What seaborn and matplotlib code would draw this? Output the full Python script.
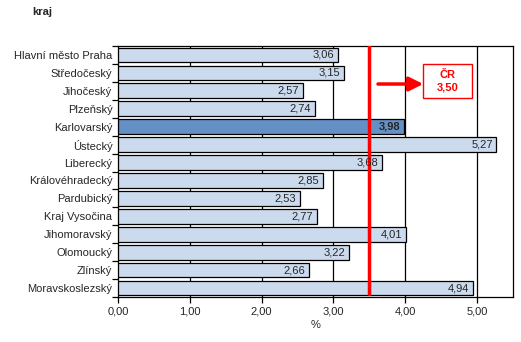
import matplotlib
matplotlib.use("Agg")
import matplotlib.pyplot as plt
from matplotlib.patches import Rectangle
import seaborn as sns
import pandas as pd

regions = ["Hlavní město Praha", "Středočeský", "Jihočeský", "Plzeňský", "Karlovarský",
           "Ústecký", "Liberecký", "Královéhradecký", "Pardubický", "Kraj Vysočina",
           "Jihomoravský", "Olomoucký", "Zlínský", "Moravskoslezský"]
values = [3.06, 3.15, 2.57, 2.74, 3.98, 5.27, 3.68, 2.85, 2.53, 2.77, 4.01, 3.22, 2.66, 4.94]
highlight = "Karlovarský"
cr_value = 3.50
x_ticks = [0, 1, 2, 3, 4, 5]

sns.set_theme(style="white")
plt.rcParams["font.family"] = ["Liberation Sans", "DejaVu Sans"]
FS = 8

df = pd.DataFrame({"kraj": regions, "hodnota": values})
light, dark = "#C6D9F1", "#558ED5"
palette = {r: (dark if r == highlight else light) for r in regions}

fig = plt.figure(figsize=(5.21, 3.42), dpi=100)
ax = fig.add_axes([118 / 521, 1 - 297 / 342, (513 - 118) / 521, (297 - 46) / 342])

sns.barplot(data=df, x="hodnota", y="kraj", hue="kraj", palette=palette, order=regions,
            width=0.82, edgecolor="black", linewidth=0.9, legend=False, ax=ax, zorder=3)

ax.set_xlim(0, 5.5)
ax.set_ylim(len(regions) - 0.5, -0.5)
ax.set_xticks(x_ticks)
ax.set_xticklabels([f"{t:.2f}".replace(".", ",") for t in x_ticks], fontsize=FS)
for t in x_ticks[1:]:
    ax.axvline(t, color="black", lw=0.9, zorder=1)

ax.set_yticks(range(len(regions)))
ax.set_yticklabels(regions, fontsize=FS)
ax.tick_params(axis="y", length=0, pad=4)
ax.tick_params(axis="x", length=4, width=0.9, direction="out", color="black", bottom=True, pad=3)
# Excel-style ticks between categories
ax.set_yticks([i - 0.5 for i in range(len(regions) + 1)], minor=True)
ax.tick_params(axis="y", which="minor", length=4, width=0.9, direction="out", color="black", left=True)

for s in ax.spines.values():
    s.set_color("black")
    s.set_linewidth(0.9)

ax.set_xlabel("%", fontsize=FS, labelpad=2)
ax.set_ylabel("")

for i, (r, v) in enumerate(zip(regions, values)):
    ax.text(v - 0.05, i, f"{v:.2f}".replace(".", ","), ha="right", va="center",
            fontsize=FS, fontweight="bold" if r == highlight else "normal", zorder=5)

# national average line with callout
ax.axvline(cr_value, color="#FF0000", lw=2.5, zorder=4, ymin=0.01, ymax=1)
ax.annotate("", xy=(4.25, 1.62), xytext=(3.62, 1.62),
            arrowprops=dict(arrowstyle="-|>,head_width=0.35,head_length=0.7", color="#FF0000",
                            lw=2.5, shrinkA=0, shrinkB=0),
            zorder=6)
ax.add_patch(Rectangle((4.25, 0.5), 0.68, 1.9, fc="white", ec="#FF0000", lw=1.0, zorder=6))
ax.text(4.59, 1.45, f"ČR\n{cr_value:.2f}".replace(".", ","), ha="center", va="center",
        color="#FF0000", fontsize=FS, fontweight="bold", linespacing=1.3, zorder=7)

fig.text(32 / 521, 1 - 12 / 342, "kraj", fontsize=FS, fontweight="bold", va="center", ha="left")

fig.savefig("out.png", dpi=100)
